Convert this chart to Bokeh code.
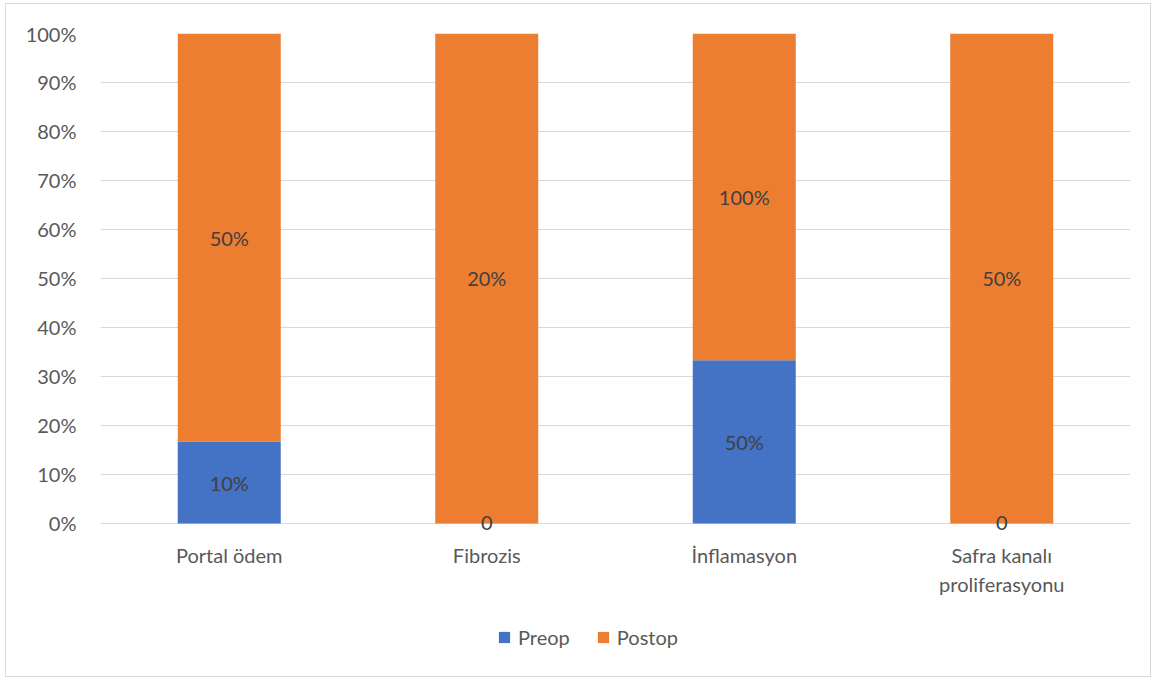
from bokeh.plotting import figure
from bokeh.models import ColumnDataSource, FactorRange, NumeralTickFormatter, Legend, LegendItem, FixedTicker
from bokeh.core.properties import value
from bokeh.embed import file_html
from bokeh.resources import INLINE

categories = ["Portal ödem", "Fibrozis", "İnflamasyon", "Safra kanalı\nproliferasyonu"]
preop = [10, 0, 50, 0]
postop = [50, 20, 100, 50]
series_names = ["Preop", "Postop"]
colors = ["#4472C4", "#ED7D31"]
y_ticks = [i / 10 for i in range(11)]

FONT = "Lato"
FS = "20px"
TXT = "#595959"
GRID = "#d9d9d9"

# 100% stacked shares
totals = [a + b for a, b in zip(preop, postop)]
pre_share = [a / t for a, t in zip(preop, totals)]
post_share = [b / t for b, t in zip(postop, totals)]


def fmt(v):
    return "0" if v == 0 else f"{v}%"


src = ColumnDataSource(dict(
    cat=categories,
    Preop=pre_share,
    Postop=post_share,
    pre_mid=[s / 2 for s in pre_share],
    post_mid=[p + q / 2 for p, q in zip(pre_share, post_share)],
    pre_lbl=[fmt(v) for v in preop],
    post_lbl=[fmt(v) for v in postop],
    cat_y=[-0.039] * len(categories),
))

# the frame reaches down to the legend so category labels and
# zero-value labels can sit under the baseline
p = figure(
    x_range=FactorRange(*categories, range_padding=0),
    y_range=(-0.296, 1),
    width=1144, height=672,
    output_backend="svg", toolbar_location=None,
    min_border_left=94, min_border_right=20, min_border_top=29, min_border_bottom=8,
    margin=(4, 5, 2, 6),
    styles={"outline": "1px solid #d9d9d9"},
)
p.outline_line_color = None
p.background_fill_color = "white"
p.border_fill_color = "white"

bars = p.vbar_stack(series_names, x="cat", width=0.4, source=src,
                    color=colors, line_color=None)

for ycol, tcol in (("pre_mid", "pre_lbl"), ("post_mid", "post_lbl")):
    p.text(x="cat", y=ycol, text=tcol, source=src,
           text_align="center", text_baseline="middle",
           text_font=value(FONT), text_font_size=FS, text_color="#404040")

# category names under the bars
p.text(x="cat", y="cat_y", text="cat", source=src,
       text_align="center", text_baseline="top", text_line_height=1.22,
       text_font=value(FONT), text_font_size=FS, text_color=TXT)

# axes
p.xaxis.visible = False
p.yaxis.ticker = FixedTicker(ticks=y_ticks)
p.yaxis.formatter = NumeralTickFormatter(format="0%")
p.yaxis.axis_line_color = None
p.yaxis.major_tick_line_color = None
p.yaxis.minor_tick_line_color = None
p.yaxis.major_label_text_font = FONT
p.yaxis.major_label_text_font_size = FS
p.yaxis.major_label_text_color = TXT
p.yaxis.major_label_standoff = 18

p.xgrid.grid_line_color = None
p.ygrid.grid_line_color = GRID
p.ygrid.grid_line_width = 1

legend = Legend(
    items=[LegendItem(label=n, renderers=[r]) for n, r in zip(series_names, bars)],
    orientation="horizontal", location=(397, 19),
    label_text_font=FONT, label_text_font_size=FS, label_text_color=TXT,
    glyph_width=14, glyph_height=14, spacing=26, label_standoff=7,
    border_line_color=None, background_fill_alpha=0, padding=0, margin=0,
)
p.add_layout(legend, "center")

open("out.html", "w").write(file_html(p, INLINE))
